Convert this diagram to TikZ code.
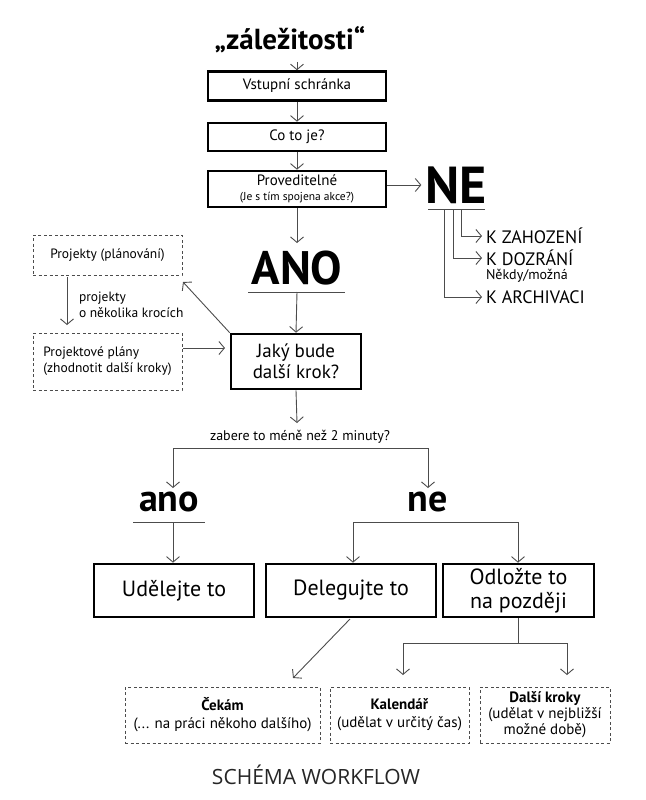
\documentclass[tikz,border=0pt]{standalone}
\usepackage{fontspec}
\setmainfont{PT Sans}
\newfontfamily\capfont{Open Sans}
\usetikzlibrary{arrows.meta}
\begin{document}
\begin{tikzpicture}[x=1pt,y=-1pt,
  every node/.style={inner sep=0pt, outer sep=0pt},
  box/.style={draw=black, line width=2.6pt, outer sep=1.3pt, align=center},
  dbox/.style={draw=black!70, dash pattern=on 3pt off 2.5pt, line width=1pt, align=center},
  con/.style={draw=black!70, line width=0.9pt},
  arr/.style={con, -{Straight Barb[length=5.5pt,width=13pt]}},
  f15/.style={font=\fontsize{15}{18}\selectfont},
  f13/.style={font=\fontsize{13.5}{16}\selectfont},
  kstyle/.style={font=\fontsize{18}{20}\selectfont, anchor=west},
]
\useasboundingbox (0,0) rectangle (645,800);

% title
\node[font=\fontsize{29}{34}\selectfont\bfseries] (title) at (290,40) {„záležitosti“};

% main column
\node[box, f15, minimum width=178pt, minimum height=29pt] (vs) at (297,86) {Vstupní schránka};
\node[box, f15, minimum width=178pt, minimum height=28pt] (co) at (297,137) {Co to je?};
\node[box, f15, minimum width=178pt, minimum height=36pt] (pr) at (297,189)
  {Proveditelné\\[-3.5pt]{\fontsize{11.5}{13}\selectfont (Je s tím spojena akce?)}};

\coordinate (tin) at (297,62);
\draw[arr] (tin) -- (vs.north);
\draw[arr] (vs) -- (co);
\draw[arr] (co) -- (pr);

% NE branch
\node[font=\fontsize{52}{56}\selectfont\bfseries, inner sep=4pt] (ne) at (456,185) {NE};
\draw[arr] (pr.east |- ne.west) -- (ne.west);
\coordinate (neL) at (428,209);
\coordinate (neR) at (485,209);
\draw[con] (neL) -- (neR);
\node[kstyle] (kz) at (486,236) {K ZAHOZENÍ};
\node[kstyle] (kd) at (486,258) {K DOZRÁNÍ};
\node[font=\fontsize{14}{15}\selectfont, anchor=west] (kdn) at (486,276) {Někdy/možná};
\node[kstyle] (ka) at (486,297) {K ARCHIVACI};
\coordinate (b1) at (461,209);
\coordinate (b2) at (453,209);
\coordinate (b3) at (444,209);
\draw[arr] (b1) |- ([xshift=-4pt]kz.west);
\draw[arr] (b2) |- ([xshift=-4pt]kd.west);
\draw[arr] (b3) |- ([xshift=-4pt]ka.west);

% ANO
\node[font=\fontsize{47}{50}\selectfont\bfseries] (ano) at (297,268) {ANO};
\coordinate (anoTop) at (297,243);
\coordinate (anoL) at (248,292);
\coordinate (anoR) at (345,292);
\coordinate (anoM) at (297,292);
\draw[arr] (pr.south) -- (anoTop);
\draw[con] (anoL) -- (anoR);

\node[box, font=\fontsize{19}{21}\selectfont, minimum width=130pt, minimum height=55pt] (jk) at (296,361.5) {Jaký bude\\další krok?};
\draw[arr] (anoM) -- (jk.north);

% projects
\node[dbox, f13, minimum width=149pt, minimum height=40pt] (pj) at (107.5,255) {Projekty (plánování)};
\node[dbox, f13, minimum width=149pt, minimum height=57pt, align=left] (pp) at (107.5,361.5)
  {Projektové plány\\(zhodnotit další kroky)};
\node[f13, anchor=west, align=left] (pjl) at (79,305) {projekty\\o několika krocích};
\draw[arr] ([xshift=-40.5pt,yshift=-2pt]pj.south) -- ([xshift=-40.5pt,yshift=8pt]pp.north);
\coordinate (ppA) at (183,348);
\coordinate (jkA) at (225,348);
\draw[arr] (ppA) -- (jkA);
\coordinate (pjC) at (183,282);
\draw[arr] (jk.north west) -- (pjC);

% 2 minutes question
\coordinate (qTop) at (297,423);
\draw[arr] (jk.south) -- (qTop);
\node[font=\fontsize{14}{16}\selectfont] (q) at (300,437) {zabere to méně než 2 minuty?};
\coordinate (qL) at (173,448);
\coordinate (qR) at (428,448);
\coordinate (anoTip) at (173,488);
\coordinate (neTip) at (428,488);
\draw[con] (qL) -- (qR);
\draw[arr] (qL) -- (anoTip);
\draw[arr] (qR) -- (neTip);

\node[font=\fontsize{38}{42}\selectfont\bfseries] (ano2) at (169,502) {ano};
\node[font=\fontsize{38}{42}\selectfont\bfseries] (ne2) at (428,502) {ne};
\coordinate (a2L) at (133,522);
\coordinate (a2R) at (205,522);
\coordinate (a2M) at (173,522);
\draw[con] (a2L) -- (a2R);
\coordinate (n2L) at (353,522);
\coordinate (n2R) at (518,522);
\draw[con] (n2L) -- (n2R);

% bottom action boxes
\node[box, font=\fontsize{22}{24}\selectfont, minimum width=160pt, minimum height=53pt] (ud) at (174,590.5) {Udělejte to};
\node[box, font=\fontsize{22}{24}\selectfont, minimum width=170pt, minimum height=53pt] (de) at (351,590.5) {Delegujte to};
\node[box, font=\fontsize{22}{24}\selectfont, minimum width=151pt, minimum height=53pt] (od) at (518.5,590.5) {Odložte to\\na později};
\draw[arr] (a2M) -- (ud.north -| a2M);
\draw[arr] (n2L) -- (de.north -| n2L);
\draw[arr] (n2R) -- (od.north -| n2R);

% waiting / calendar / next
\node[dbox, f15, minimum width=195pt, minimum height=56pt] (ce) at (222.5,715)
  {\textbf{Čekám}\\(... na práci někoho dalšího)};
\node[dbox, f15, minimum width=139pt, minimum height=56pt] (ka2) at (399.5,715)
  {\textbf{Kalendář}\\(udělat v určitý čas)};
\node[dbox, f15, minimum width=130pt, minimum height=56pt, font=\fontsize{15}{16}\selectfont] (dk) at (545,715)
  {\textbf{Další kroky}\\(udělat v nejbližší\\možné době)};

\coordinate (deOut) at (350,619);
\coordinate (ceTip) at (293,678);
\draw[arr] (deOut) -- (ceTip);
\coordinate (odM) at (518,643);
\coordinate (odL) at (403,643);
\coordinate (odR) at (567,643);
\draw[con] (od.south -| odM) -- (odM);
\draw[con] (odL) -- (odR);
\draw[arr] (odL) -- ([yshift=-32pt]odL);
\draw[arr] (odR) -- ([yshift=-32pt]odR);

% caption
\node[font=\capfont\fontsize{21}{24}\selectfont, text=black!85] (cap) at (316,775) {SCHÉMA WORKFLOW};
\end{tikzpicture}
\end{document}
